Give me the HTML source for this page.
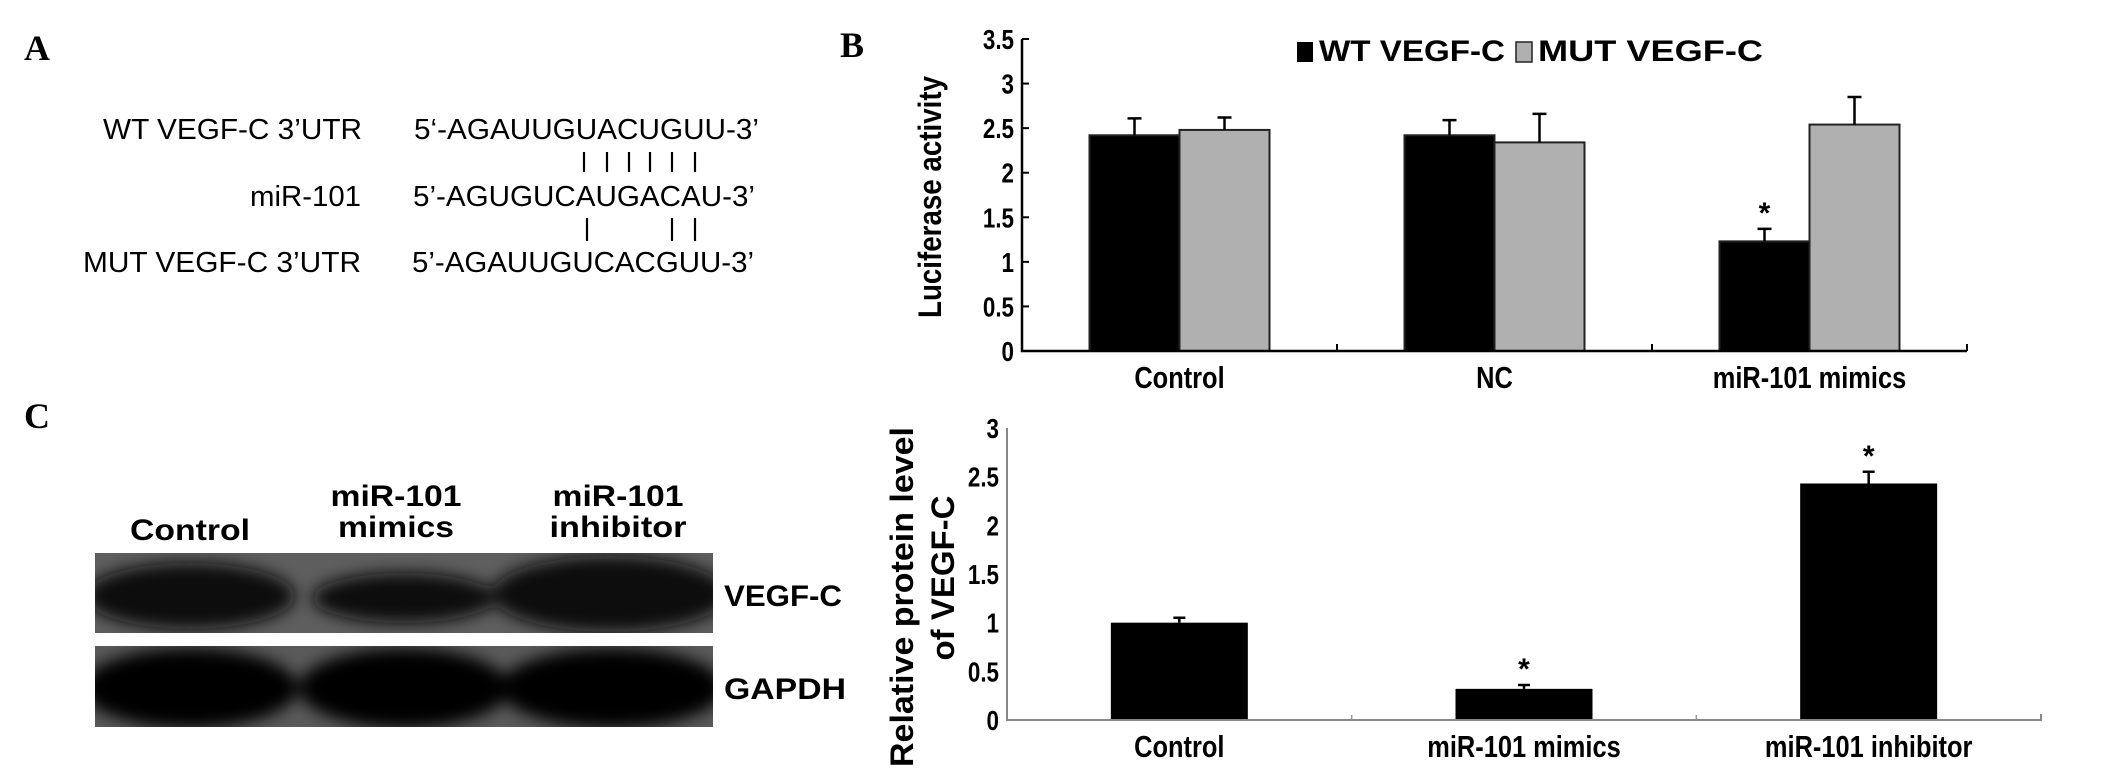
<!DOCTYPE html>
<html><head><meta charset="utf-8"><style>
html,body{margin:0;padding:0;background:#fff}
svg{display:block}
text{font-family:"Liberation Sans",Arial,sans-serif;fill:#000}
</style></head><body>
<svg id="fig" width="2126" height="772" viewBox="0 0 2126 772" xmlns="http://www.w3.org/2000/svg">
<defs>
<filter id="blur" x="-20%" y="-50%" width="140%" height="200%"><feGaussianBlur stdDeviation="8"/></filter>
</defs>
<!-- Panel A -->
<g>
<text x="24" y="60" font-weight="bold" font-size="36" style="font-family:'Liberation Serif',serif">A</text>
<text x="362" y="139" text-anchor="end" font-size="29" textLength="259" lengthAdjust="spacingAndGlyphs">WT VEGF-C 3’UTR</text>
<text x="414" y="139" font-size="29" textLength="345" lengthAdjust="spacingAndGlyphs">5‘-AGAUUGUACUGUU-3’</text>
<text x="361" y="206" text-anchor="end" font-size="29" textLength="111" lengthAdjust="spacingAndGlyphs">miR-101</text>
<text x="413" y="206" font-size="29" textLength="342" lengthAdjust="spacingAndGlyphs">5’-AGUGUCAUGACAU-3’</text>
<text x="361" y="272" text-anchor="end" font-size="29" textLength="278" lengthAdjust="spacingAndGlyphs">MUT VEGF-C 3’UTR</text>
<text x="412" y="272" font-size="29" textLength="342" lengthAdjust="spacingAndGlyphs">5’-AGAUUGUCACGUU-3’</text>
<g stroke="#000" stroke-width="2.2">
<line x1="584" y1="152" x2="584" y2="172"/><line x1="607" y1="152" x2="607" y2="172"/><line x1="629" y1="152" x2="629" y2="172"/><line x1="650" y1="152" x2="650" y2="172"/><line x1="672" y1="152" x2="672" y2="172"/><line x1="695" y1="152" x2="695" y2="172"/>
<line x1="587" y1="218" x2="587" y2="241"/><line x1="672" y1="218" x2="672" y2="241"/><line x1="695" y1="218" x2="695" y2="241"/>
</g>
</g>
<!-- Panel C blot -->
<g>
<text x="24" y="428" font-weight="bold" font-size="36" style="font-family:'Liberation Serif',serif">C</text>
<text x="190" y="540" text-anchor="middle" font-weight="bold" font-size="30" textLength="120" lengthAdjust="spacingAndGlyphs">Control</text>
<text x="396" y="506" text-anchor="middle" font-weight="bold" font-size="30" textLength="131" lengthAdjust="spacingAndGlyphs">miR-101</text>
<text x="396" y="537" text-anchor="middle" font-weight="bold" font-size="30" textLength="116" lengthAdjust="spacingAndGlyphs">mimics</text>
<text x="618" y="506" text-anchor="middle" font-weight="bold" font-size="30" textLength="131" lengthAdjust="spacingAndGlyphs">miR-101</text>
<text x="618" y="537" text-anchor="middle" font-weight="bold" font-size="30" textLength="137" lengthAdjust="spacingAndGlyphs">inhibitor</text>
<g>
<rect x="95" y="553" width="618" height="80" fill="#5e5e5e"/>
<clipPath id="c1"><rect x="95" y="553" width="618" height="80"/></clipPath>
<g clip-path="url(#c1)" filter="url(#blur)" fill="#080808">
<ellipse cx="190" cy="596" rx="105" ry="33"/>
<ellipse cx="404" cy="598" rx="92" ry="25"/>
<ellipse cx="610" cy="594" rx="118" ry="38"/>
</g>
</g>
<g>
<rect x="95" y="646" width="618" height="81" fill="#5a5a5a"/>
<clipPath id="c2"><rect x="95" y="646" width="618" height="81"/></clipPath>
<g clip-path="url(#c2)" filter="url(#blur)" fill="#060606">
<ellipse cx="190" cy="688" rx="108" ry="40"/>
<ellipse cx="404" cy="688" rx="105" ry="40"/>
<ellipse cx="612" cy="688" rx="112" ry="40"/>
</g>
</g>
<text x="724" y="606" font-weight="bold" font-size="30" textLength="118" lengthAdjust="spacingAndGlyphs">VEGF-C</text>
<text x="724" y="699" font-weight="bold" font-size="30" textLength="122" lengthAdjust="spacingAndGlyphs">GAPDH</text>
</g>
<g id="chartB"></g>
<g id="chartC"></g>
</svg>
<script>
// Chart B data
const bCategories = ["Control", "NC", "miR-101 mimics"];
const bWT = [2.42, 2.42, 1.23];
const bWTErr = [0.19, 0.17, 0.14];
const bMUT = [2.48, 2.34, 2.54];
const bMUTErr = [0.14, 0.32, 0.31];
const bTicks = ["0", "0.5", "1", "1.5", "2", "2.5", "3", "3.5"];
const bStars = [false, false, true];
// Chart C data
const cCategories = ["Control", "miR-101 mimics", "miR-101 inhibitor"];
const cValues = [1.0, 0.32, 2.43];
const cErr = [0.05, 0.04, 0.12];
const cTicks = ["0", "0.5", "1", "1.5", "2", "2.5", "3"];
const cStars = [false, true, true];

const NS = "http://www.w3.org/2000/svg";
function mk(parent, tag, attrs, text) {
  const el = document.createElementNS(NS, tag);
  for (const k in attrs) el.setAttribute(k, attrs[k]);
  if (text !== undefined) el.textContent = text;
  parent.appendChild(el);
  return el;
}

// ---- Chart B ----
(function () {
  const g = document.getElementById("chartB");
  const x0 = 1022, x1 = 1967, y0 = 351, yTop = 39, vmax = 3.5;
  const yS = v => y0 - (v / vmax) * (y0 - yTop);
  const gw = (x1 - x0) / bCategories.length;
  const gc = i => x0 + gw * (i + 0.5);
  const bw = 90;
  bTicks.forEach((t) => {
    const v = parseFloat(t), y = yS(v);
    const tk = mk(g, "line", {x1: x0, y1: y, x2: x0 + 7, y2: y, stroke: "#000", "stroke-width": 2});
    
    
    const lb = mk(g, "text", {x: x0 - 8, y: y + 10, "text-anchor": "end", "font-size": 28, "font-weight": "bold", transform: `translate(${x0 - 8},0) scale(0.8,1) translate(${-(x0 - 8)},0)`}, t);
    
    
  });
  bCategories.forEach((c, i) => {
    const cx = gc(i);
    const series = [[bWT[i], bWTErr[i], "#000", "bar-wt"], [bMUT[i], bMUTErr[i], "#b0b0b0", "bar-mut"]];
    series.forEach((s, j) => {
      const bx = cx - bw + j * bw, y = yS(s[0]);
      const r = mk(g, "rect", {x: bx, y: y, width: bw, height: y0 - y, fill: s[2], stroke: "#222", "stroke-width": 2});
      
      
      const ex = bx + bw / 2, ey = yS(s[0] + s[1]);
      const e = mk(g, "path", {d: `M${ex},${y} V${ey} M${ex - 7},${ey} H${ex + 7}`, stroke: "#000", "stroke-width": 2.5, fill: "none"});
      
      
      if (j === 0 && bStars[i]) {
        const st = mk(g, "text", {x: ex, y: ey - 6, "text-anchor": "middle", "font-size": 30, "font-weight": "bold"}, "*");
        
        
      }
    });
    const xl = mk(g, "text", {x: cx, y: y0 + 37, "text-anchor": "middle", "font-size": 31, "font-weight": "bold", transform: `translate(${cx},0) scale(0.82,1) translate(${-cx},0)`}, c);
    
    
    const tx = x0 + gw * (i + 1);
    const t2 = mk(g, "line", {x1: tx, y1: y0, x2: tx, y2: y0 - 7, stroke: "#000", "stroke-width": 2});
    
    
  });
  const ax = mk(g, "path", {d: `M${x0},${yTop} V${y0} H${x1}`, stroke: "#000", "stroke-width": 2.5, fill: "none"});
  
  
  const yt = mk(g, "text", {x: 0, y: 0, "text-anchor": "middle", "font-size": 32, "font-weight": "bold", transform: "translate(941,197) rotate(-90)", textLength: "242", lengthAdjust: "spacingAndGlyphs"}, "Luciferase activity");
  
  
  const lg = mk(g, "g", {});
  
  
  const b1 = mk(lg, "rect", {x: 1297, y: 42, width: 16, height: 20, fill: "#000"});
  
  
  const l1 = mk(lg, "text", {x: 1319, y: 61, "font-size": 30, "font-weight": "bold", textLength: "186", lengthAdjust: "spacingAndGlyphs"}, "WT VEGF-C");
  
  
  const b2 = mk(lg, "rect", {x: 1516, y: 42, width: 16, height: 20, fill: "#b0b0b0", stroke: "#222", "stroke-width": 1.5});
  
  
  const l2 = mk(lg, "text", {x: 1538, y: 61, "font-size": 30, "font-weight": "bold", textLength: "225", lengthAdjust: "spacingAndGlyphs"}, "MUT VEGF-C");
  
  
  const pb = mk(g, "text", {x: 840, y: 57, "font-size": 36, "font-weight": "bold", style: "font-family:'Liberation Serif',serif"}, "B");
  
  
})();

// ---- Chart C ----
(function () {
  const g = document.getElementById("chartC");
  const x0 = 1007, x1 = 2041, y0 = 720, yTop = 428, vmax = 3;
  const yS = v => y0 - (v / vmax) * (y0 - yTop);
  const gw = (x1 - x0) / cCategories.length;
  const gc = i => x0 + gw * (i + 0.5);
  const bw = 137;
  cTicks.forEach((t) => {
    const v = parseFloat(t), y = yS(v);
    const lb = mk(g, "text", {x: x0 - 8, y: y + 10, "text-anchor": "end", "font-size": 28, "font-weight": "bold", transform: `translate(${x0 - 8},0) scale(0.8,1) translate(${-(x0 - 8)},0)`}, t);
    
    
  });
  cCategories.forEach((c, i) => {
    const cx = gc(i), y = yS(cValues[i]);
    const r = mk(g, "rect", {x: cx - bw / 2, y: y, width: bw, height: y0 - y, fill: "#000"});
    
    
    const ey = yS(cValues[i] + cErr[i]);
    const e = mk(g, "path", {d: `M${cx},${y} V${ey} M${cx - 6},${ey} H${cx + 6}`, stroke: "#000", "stroke-width": 2.5, fill: "none"});
    
    
    if (cStars[i]) {
      const st = mk(g, "text", {x: cx, y: ey - 6, "text-anchor": "middle", "font-size": 30, "font-weight": "bold"}, "*");
      
      
    }
    const xl = mk(g, "text", {x: cx, y: y0 + 37, "text-anchor": "middle", "font-size": 31, "font-weight": "bold", transform: `translate(${cx},0) scale(0.82,1) translate(${-cx},0)`}, c);
    
    
    if (i < cCategories.length - 1) {
      const tx = x0 + gw * (i + 1);
      const t2 = mk(g, "line", {x1: tx, y1: y0, x2: tx, y2: y0 - 5, stroke: "#999", "stroke-width": 1.5});
      
      
    }
  });
  const ax = mk(g, "path", {d: `M${x0},${yTop} V${y0} H${x1} V${y0 - 6}`, stroke: "#888", "stroke-width": 2, fill: "none"});
  
  
  const t1 = mk(g, "text", {x: 0, y: 0, "text-anchor": "middle", "font-size": 32, "font-weight": "bold", transform: "translate(913,597) rotate(-90)", textLength: "340", lengthAdjust: "spacingAndGlyphs"}, "Relative protein level");
  
  
  const t2 = mk(g, "text", {x: 0, y: 0, "text-anchor": "middle", "font-size": 32, "font-weight": "bold", transform: "translate(954,578) rotate(-90)", textLength: "165", lengthAdjust: "spacingAndGlyphs"}, "of VEGF-C");
  
  
})();
</script>
</body></html>
